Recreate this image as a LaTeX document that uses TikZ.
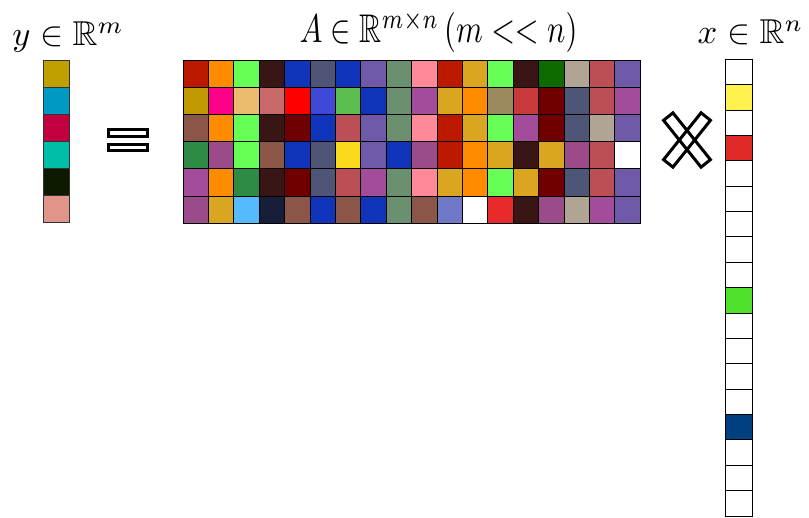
\documentclass[tikz,border=0pt]{standalone}
\usepackage{amssymb}
\definecolor{cRed}{HTML}{BB1A00}
\definecolor{cOrange}{HTML}{FF8C00}
\definecolor{cLgreen}{HTML}{66FF55}
\definecolor{cDbrown}{HTML}{3A1515}
\definecolor{cBlue}{HTML}{1035BB}
\definecolor{cSlate}{HTML}{4F5577}
\definecolor{cPurple}{HTML}{6E5AA8}
\definecolor{cGgreen}{HTML}{6A9070}
\definecolor{cPink}{HTML}{FF8899}
\definecolor{cGold}{HTML}{DAA520}
\definecolor{cDgreen}{HTML}{0D6B00}
\definecolor{cGrey}{HTML}{B0A595}
\definecolor{cRose}{HTML}{BB4F55}
\definecolor{cOlive}{HTML}{C09A00}
\definecolor{cMagenta}{HTML}{FF0088}
\definecolor{cTan}{HTML}{EBBB6E}
\definecolor{cSalmon}{HTML}{C86A6A}
\definecolor{cPred}{HTML}{FF0000}
\definecolor{cBluish}{HTML}{4048D8}
\definecolor{cMgreen}{HTML}{5BBF50}
\definecolor{cOrchid}{HTML}{A44C9C}
\definecolor{cKhaki}{HTML}{9B8A5E}
\definecolor{cRedB}{HTML}{C83A3A}
\definecolor{cMaroon}{HTML}{700000}
\definecolor{cBrown}{HTML}{8B5548}
\definecolor{cGreenB}{HTML}{2E8B45}
\definecolor{cPlum}{HTML}{9B4A8A}
\definecolor{cYellow}{HTML}{F9DA1A}
\definecolor{cLblue}{HTML}{55BBFF}
\definecolor{cNavy}{HTML}{161E3A}
\definecolor{cPeri}{HTML}{7078C8}
\definecolor{cRedC}{HTML}{E82A2A}
\definecolor{yA}{HTML}{BFA000}
\definecolor{yB}{HTML}{0099C4}
\definecolor{yC}{HTML}{C3003F}
\definecolor{yD}{HTML}{00BFA8}
\definecolor{yE}{HTML}{0E1A00}
\definecolor{yF}{HTML}{E0958A}
\definecolor{xYellow}{HTML}{FFF24F}
\definecolor{xRed}{HTML}{E02A2A}
\definecolor{xGreen}{HTML}{4EE02A}
\definecolor{xNavy}{HTML}{004080}
\begin{document}
\begin{tikzpicture}[x=1pt,y=-1pt,
  mcell/.style={draw=black,line width=0.8pt,inner sep=0pt,minimum width=25.4pt,minimum height=27.1pt},
  ycell/.style={draw=black!80,line width=0.8pt,inner sep=0pt,minimum width=25.7pt,minimum height=27pt},
  xcell/.style={draw=black,line width=0.8pt,inner sep=0pt,minimum width=27pt,minimum height=25.37pt,fill=white},
  lbl/.style={inner sep=0pt,anchor=base,scale=3.45,transform shape},
  biglbl/.style={inner sep=0pt,anchor=base,xscale=3.05,yscale=4.0,transform shape},
  hollow/.style={draw=black,line width=3pt}]
\useasboundingbox (0,0) rectangle (809,518);
% labels
\node[lbl] (ylab) at (68,46) {$y \in \mathbb{R}^m$};
\node[biglbl] (Alab) at (438.5,43) {$A \in \mathbb{R}^{m\times n}\,(m << n)$};
\node[lbl] (xlab) at (750.5,44) {$x \in \mathbb{R}^n$};
% y vector
\foreach \c [count=\i] in {yA,yB,yC,yD,yE,yF}
  \node[ycell,fill=\c] (y-\i) at (56.15,{60.7+27*(\i-0.5)}) {};
% matrix A
\foreach \row [count=\i] in {
 {cRed,cOrange,cLgreen,cDbrown,cBlue,cSlate,cBlue,cPurple,cGgreen,cPink,cRed,cGold,cLgreen,cDbrown,cDgreen,cGrey,cRose,cPurple},
 {cOlive,cMagenta,cTan,cSalmon,cPred,cBluish,cMgreen,cBlue,cGgreen,cOrchid,cGold,cOrange,cKhaki,cRedB,cMaroon,cSlate,cRose,cOrchid},
 {cBrown,cOrange,cLgreen,cDbrown,cMaroon,cBlue,cRose,cPurple,cGgreen,cPink,cRed,cGold,cLgreen,cOrchid,cMaroon,cSlate,cGrey,cPurple},
 {cGreenB,cPlum,cLgreen,cBrown,cBlue,cSlate,cYellow,cPurple,cBlue,cPlum,cRed,cOrange,cGold,cDbrown,cGold,cPlum,cRose,white},
 {cOrchid,cOrange,cGreenB,cDbrown,cMaroon,cSlate,cRose,cOrchid,cGgreen,cPink,cGold,cOrange,cLgreen,cGold,cMaroon,cSlate,cRose,cPurple},
 {cPlum,cGold,cLblue,cNavy,cBrown,cBlue,cBrown,cBlue,cGgreen,cBrown,cPeri,white,cRedC,cDbrown,cPlum,cGrey,cOrchid,cPurple}}
 {\foreach \c [count=\j] in \row
   \node[mcell,fill=\c] (A-\i-\j) at ({183+25.4*(\j-0.5)},{60.5+27.1*(\i-0.5)}) {};}
% x vector
\foreach \c [count=\i] in {white,xYellow,white,xRed,white,white,white,white,white,xGreen,white,white,white,white,xNavy,white,white,white}
  \node[xcell,fill=\c] (x-\i) at (739,{59.3+25.37*(\i-0.5)}) {};
% hollow equals sign
\draw[hollow] (108.2,129.8) rectangle (147.8,136.8);
\draw[hollow] (108.2,144.8) rectangle (147.8,150.8);
% hollow times sign
\draw[hollow,shift={(687,140)},rotate=-51.3] (-30,-6) rectangle (30,6);
\draw[hollow,shift={(687,140)},rotate=51.3] (-30,-6) rectangle (30,6);
\end{tikzpicture}
\end{document}
